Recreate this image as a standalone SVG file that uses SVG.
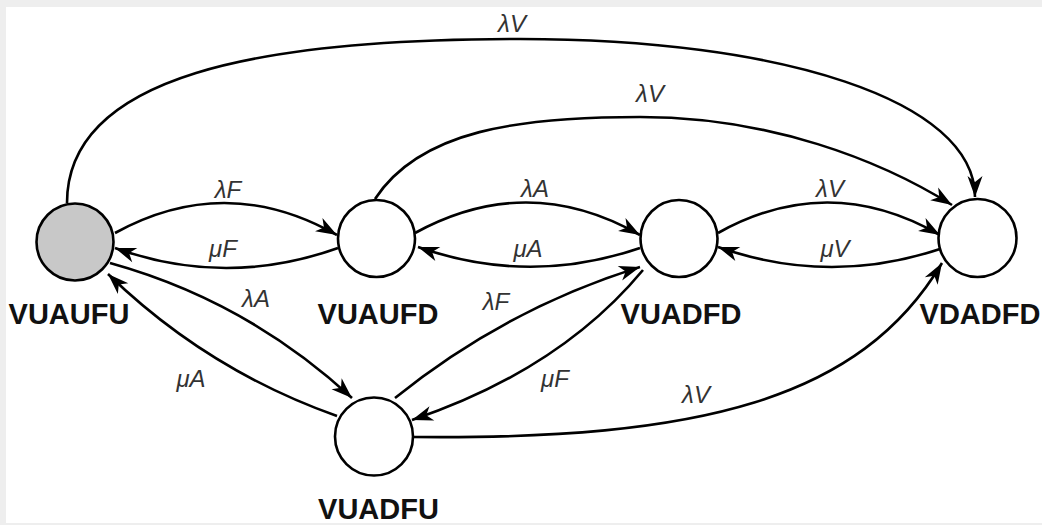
<svg xmlns="http://www.w3.org/2000/svg" width="1042" height="525" viewBox="0 0 1042 525">
  <style>
    .state { fill: #ffffff; stroke: #000000; stroke-width: 2.6; }
    .state.start { fill: #c8c8c8; }
    .name { font-family: "Liberation Sans", Arial, sans-serif; font-weight: bold; font-size: 29px; fill: #111111; text-anchor: middle; }
    .edge { fill: none; stroke: #000000; stroke-width: 2.6; marker-end: url(#arrow); }
    .rate { font-family: "Liberation Sans", Arial, sans-serif; font-style: italic; font-size: 24px; fill: #333333; text-anchor: middle; }
  </style>
  <defs>
    <marker id="arrow" viewBox="-22 -9 24 18" refX="0" refY="0" markerWidth="24" markerHeight="18" markerUnits="userSpaceOnUse" orient="auto">
      <path d="M0,0 L-21,-7.5 L-15,0 L-21,7.5 Z" fill="#000000"/>
    </marker>
  </defs>

  <rect x="0" y="0" width="1042" height="525" fill="#eeeeee"/>
  <rect x="6" y="7" width="1036" height="516" fill="#ffffff"/>

  <!-- transitions -->
  <g id="connectors">
    <!-- VUAUFU -> VDADFD (outer arc) -->
    <path class="edge" d="M67,203 C67,75 260,39 520,39 C780,39 975,100 975,197"/>
    <text class="rate" x="512" y="32">λV</text>
    <!-- VUAUFD -> VDADFD -->
    <path class="edge" d="M375,199 C420,130 520,117 640,117 C770,117 880,160 952,205"/>
    <text class="rate" x="650" y="102">λV</text>

    <!-- VUAUFU <-> VUAUFD -->
    <path class="edge" d="M115,233 Q226,172 337,235"/>
    <text class="rate" x="228" y="198">λF</text>
    <path class="edge" d="M338,248 Q226,288 115,248"/>
    <text class="rate" x="223" y="257">μF</text>

    <!-- VUAUFD <-> VUADFD -->
    <path class="edge" d="M415,233 Q528,171 640,235"/>
    <text class="rate" x="535" y="197">λA</text>
    <path class="edge" d="M640,248 Q529,286 418,247"/>
    <text class="rate" x="528" y="257">μA</text>

    <!-- VUADFD <-> VDADFD -->
    <path class="edge" d="M718,233 Q829,171 940,235"/>
    <text class="rate" x="830" y="197">λV</text>
    <path class="edge" d="M940,249 Q829,286 718,247"/>
    <text class="rate" x="835" y="257">μV</text>

    <!-- VUAUFU <-> VUADFU -->
    <path class="edge" d="M110,263 Q247,301 352,398"/>
    <text class="rate" x="256" y="307">λA</text>
    <path class="edge" d="M337,416 Q207,370 108,274"/>
    <text class="rate" x="191" y="387">μA</text>

    <!-- VUADFU <-> VUADFD -->
    <path class="edge" d="M395,398 Q505,309 640,267"/>
    <text class="rate" x="496" y="310">λF</text>
    <path class="edge" d="M643,270 Q560,370 412,420"/>
    <text class="rate" x="555" y="387">μF</text>

    <!-- VUADFU -> VDADFD -->
    <path class="edge" d="M412,437 C700,440 860,400 942,263"/>
    <text class="rate" x="696" y="403">λV</text>
  </g>

  <g id="VUAUFU">
    <circle class="state start" cx="75" cy="242" r="38.5"/>
    <text class="name" x="69" y="324">VUAUFU</text>
  </g>
  <g id="VUAUFD">
    <circle class="state" cx="376.5" cy="238.5" r="38.5"/>
    <text class="name" x="378" y="324">VUAUFD</text>
  </g>
  <g id="VUADFD">
    <circle class="state" cx="679" cy="238.5" r="38.5"/>
    <text class="name" x="681" y="324">VUADFD</text>
  </g>
  <g id="VDADFD">
    <circle class="state" cx="977.5" cy="238" r="39"/>
    <text class="name" x="980" y="324">VDADFD</text>
  </g>
  <g id="VUADFU">
    <circle class="state" cx="374" cy="436.5" r="39"/>
    <text class="name" x="378.5" y="519">VUADFU</text>
  </g>
</svg>
